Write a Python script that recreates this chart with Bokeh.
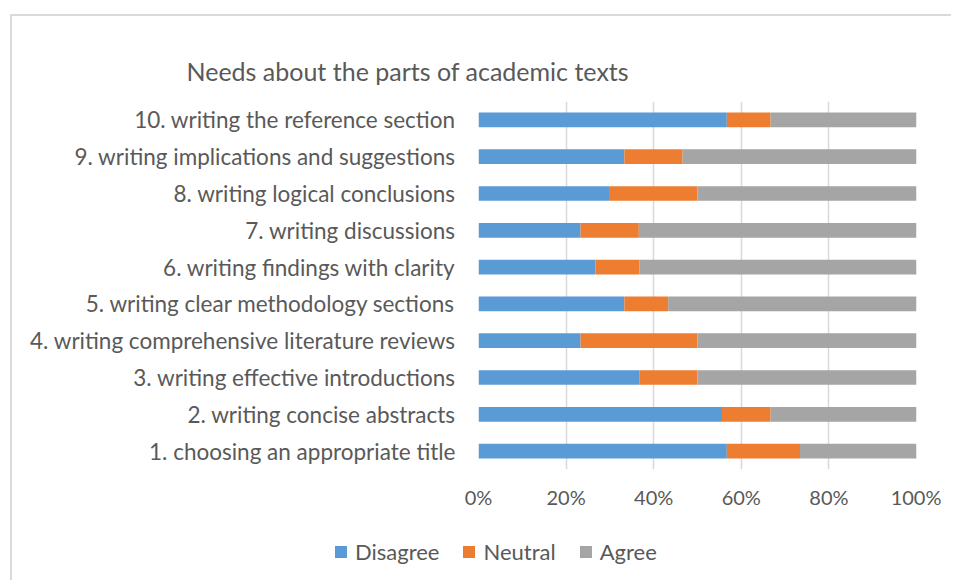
from bokeh.plotting import figure
from bokeh.layouts import column
from bokeh.models import (FactorRange, Range1d, FixedTicker, PrintfTickFormatter, Div)
from bokeh.embed import file_html
from bokeh.resources import INLINE

categories = [
    "1. choosing an appropriate title",
    "2. writing concise abstracts",
    "3. writing effective introductions",
    "4. writing comprehensive literature reviews",
    "5. writing clear methodology sections",
    "6. writing findings with clarity",
    "7. writing discussions",
    "8. writing logical conclusions",
    "9. writing implications and suggestions",
    "10. writing the reference section",
]
disagree = [56.7, 55.6, 36.7, 23.3, 33.3, 26.7, 23.3, 30.0, 33.3, 56.7]
neutral = [16.7, 11.1, 13.3, 26.7, 10.0, 10.0, 13.3, 20.0, 13.3, 10.0]
agree = [26.6, 33.3, 50.0, 50.0, 56.7, 63.3, 63.4, 50.0, 53.4, 33.3]
series = ["Disagree", "Neutral", "Agree"]
colors = ["#5B9BD5", "#ED7D31", "#A5A5A5"]
x_ticks = [0, 20, 40, 60, 80, 100]
title_text = "Needs about the parts of academic texts"

FONT = "Lato"
TXT = "#595959"

p = figure(width=941, height=530, y_range=FactorRange(factors=categories),
           x_range=Range1d(0, 100), output_backend="svg", toolbar_location=None,
           min_border_left=478, min_border_right=25, min_border_top=101,
           min_border_bottom=61, title=title_text)
p.outline_line_color = None
p.border_fill_color = None

p.title.align = "left"
p.title.offset = -292
p.title.standoff = 31
p.title.text_font = FONT
p.title.text_font_size = "25px"
p.title.text_font_style = "normal"
p.title.text_color = TXT

src = dict(cat=categories, Disagree=disagree, Neutral=neutral, Agree=agree)
rs = p.hbar_stack(series, y="cat", height=0.4, color=colors, source=src,
                  line_color=None)

p.xgrid.grid_line_color = "#D9D9D9"
p.xgrid.grid_line_width = 1.5
p.ygrid.grid_line_color = None
p.xgrid.level = "underlay"

p.xaxis.ticker = FixedTicker(ticks=x_ticks)
p.xaxis.formatter = PrintfTickFormatter(format="%d%%")
for ax in (p.xaxis, p.yaxis):
    ax.axis_line_color = None
    ax.major_tick_line_color = None
    ax.minor_tick_line_color = None
    ax.major_label_text_font = FONT
    ax.major_label_text_color = TXT
p.xaxis.major_label_text_font_size = "20px"
p.yaxis.major_label_text_font_size = "22.5px"
p.xaxis.major_label_standoff = 9
p.yaxis.major_label_standoff = 17

# legend row below the chart
items_html = "".join(
    f'<span style="display:inline-block;width:12px;height:12px;background:{c};'
    f'margin-right:8px;vertical-align:middle;position:relative;top:-2px"></span>'
    f'<span style="margin-right:24px">{s}</span>'
    for s, c in zip(series, colors)
)
legend_div = Div(
    text=(f'<div style="font-family:Lato;font-size:22px;color:{TXT};'
          f'line-height:26px;padding-left:330px;padding-top:4px;white-space:nowrap">'
          f'{items_html}</div>'),
    width=941, height=40,
)

layout = column(p, legend_div, spacing=0)
layout.styles = {
    "background": ("linear-gradient(#DADADA,#DADADA) 10px 14px / 2px 100% no-repeat, "
                   "linear-gradient(#DADADA,#DADADA) 10px 14px / 100% 2px no-repeat, white"),
}

open("out.html", "w").write(file_html(layout, INLINE))
